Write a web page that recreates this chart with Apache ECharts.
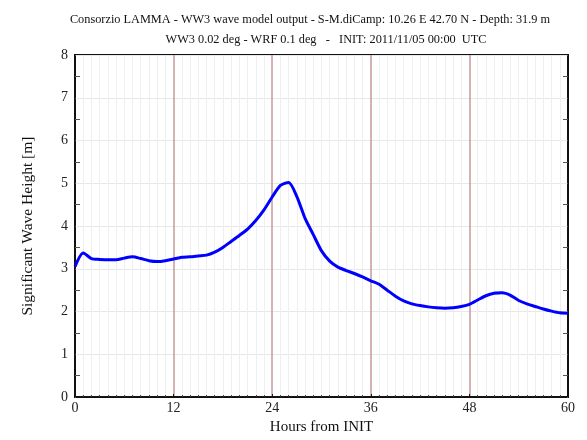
<!DOCTYPE html>
<html>
<head>
<meta charset="utf-8">
<script src="https://cdn.jsdelivr.net/npm/echarts@6/dist/echarts.min.js"></script>
<style>html,body{margin:0;padding:0;background:#fff}#c{width:587px;height:440px}</style>
</head>
<body>
<div id="c"></div>
<script>
const titleLine1 = "Consorzio LAMMA - WW3 wave model output - S-M.diCamp: 10.26 E 42.70 N - Depth: 31.9 m";
const titleLine2 = "WW3 0.02 deg - WRF 0.1 deg   -   INIT: 2011/11/05 00:00  UTC";
const xName = "Hours from INIT";
const yName = "Significant Wave Height [m]";
const hours = [0,1,2,3,4,5,6,7,8,9,10,11,12,13,14,15,16,17,18,19,20,21,22,23,24,25,26,27,28,29,30,31,32,33,34,35,36,37,38,39,40,41,42,43,44,45,46,47,48,49,50,51,52,53,54,55,56,57,58,59,60];
const waveHeight = [3.05,3.37,3.24,3.22,3.21,3.21,3.25,3.28,3.24,3.19,3.17,3.19,3.23,3.27,3.28,3.30,3.32,3.39,3.50,3.64,3.78,3.93,4.13,4.38,4.68,4.95,5.02,4.69,4.18,3.80,3.42,3.18,3.04,2.96,2.89,2.81,2.72,2.64,2.50,2.36,2.25,2.18,2.14,2.11,2.09,2.08,2.09,2.12,2.17,2.27,2.37,2.43,2.44,2.38,2.26,2.18,2.12,2.06,2.01,1.97,1.96];

const serif = "Liberation Serif";
const chart = echarts.init(document.getElementById('c'), null, {renderer: 'canvas'});
chart.setOption({
  animation: false,
  backgroundColor: '#fff',
  title: [
    {text: titleLine1, left: 305, top: 9, textAlign: 'center',
     textStyle: {fontFamily: serif, fontSize: 12.3, fontWeight: 'normal', color: '#111'}},
    {text: titleLine2, left: 321, top: 29, textAlign: 'center',
     textStyle: {fontFamily: serif, fontSize: 12.3, fontWeight: 'normal', color: '#111'}}
  ],
  grid: {left: 75, right: 19, top: 55, bottom: 39, show: true, borderColor: '#111', borderWidth: 2, backgroundColor: 'transparent'},
  xAxis: [{
    type: 'value', min: 0, max: 60, interval: 12,
    name: xName, nameLocation: 'middle', nameGap: 16,
    nameTextStyle: {fontFamily: serif, fontSize: 15, color: '#111'},
    axisLine: {show: true, lineStyle: {color: '#111', width: 2}},
    axisTick: {show: true, inside: true, length: 3, lineStyle: {color: '#111'}},
    minorTick: {show: true, splitNumber: 12, length: 2, lineStyle: {color: '#333'}},
    axisLabel: {fontFamily: serif, fontSize: 14, color: '#222', margin: 4},
    splitLine: {show: true, lineStyle: {color: '#c79a9a', width: 1.5}},
    minorSplitLine: {show: true, lineStyle: {color: '#efefef', width: 1}}
  }],
  yAxis: [{
    type: 'value', min: 0, max: 8, interval: 1,
    name: yName, nameLocation: 'middle', nameGap: 39, nameRotate: 90,
    nameTextStyle: {fontFamily: serif, fontSize: 15.5, color: '#111'},
    axisLine: {show: true, lineStyle: {color: '#111', width: 2}},
    axisTick: {show: true, inside: true, length: 1, lineStyle: {color: '#555'}},
    minorTick: {show: true, splitNumber: 2, length: 5, lineStyle: {color: '#555'}},
    axisLabel: {fontFamily: serif, fontSize: 14, color: '#222', margin: 7},
    splitLine: {show: true, lineStyle: {color: '#e8e8e8', width: 1}}
  }, {
    type: 'value', min: 0, max: 8, interval: 1, position: 'right',
    axisLine: {show: true, lineStyle: {color: '#111', width: 2}},
    axisTick: {show: true, inside: true, length: 1, lineStyle: {color: '#555'}},
    minorTick: {show: true, splitNumber: 2, length: 5, lineStyle: {color: '#555'}},
    axisLabel: {show: false},
    splitLine: {show: false}
  }],
  series: [{
    type: 'line',
    data: hours.map((h, i) => [h, waveHeight[i]]),
    showSymbol: false,
    smooth: 0.25,
    lineStyle: {color: '#0000ff', width: 3},
    z: 5
  }]
});
</script>
</body>
</html>
